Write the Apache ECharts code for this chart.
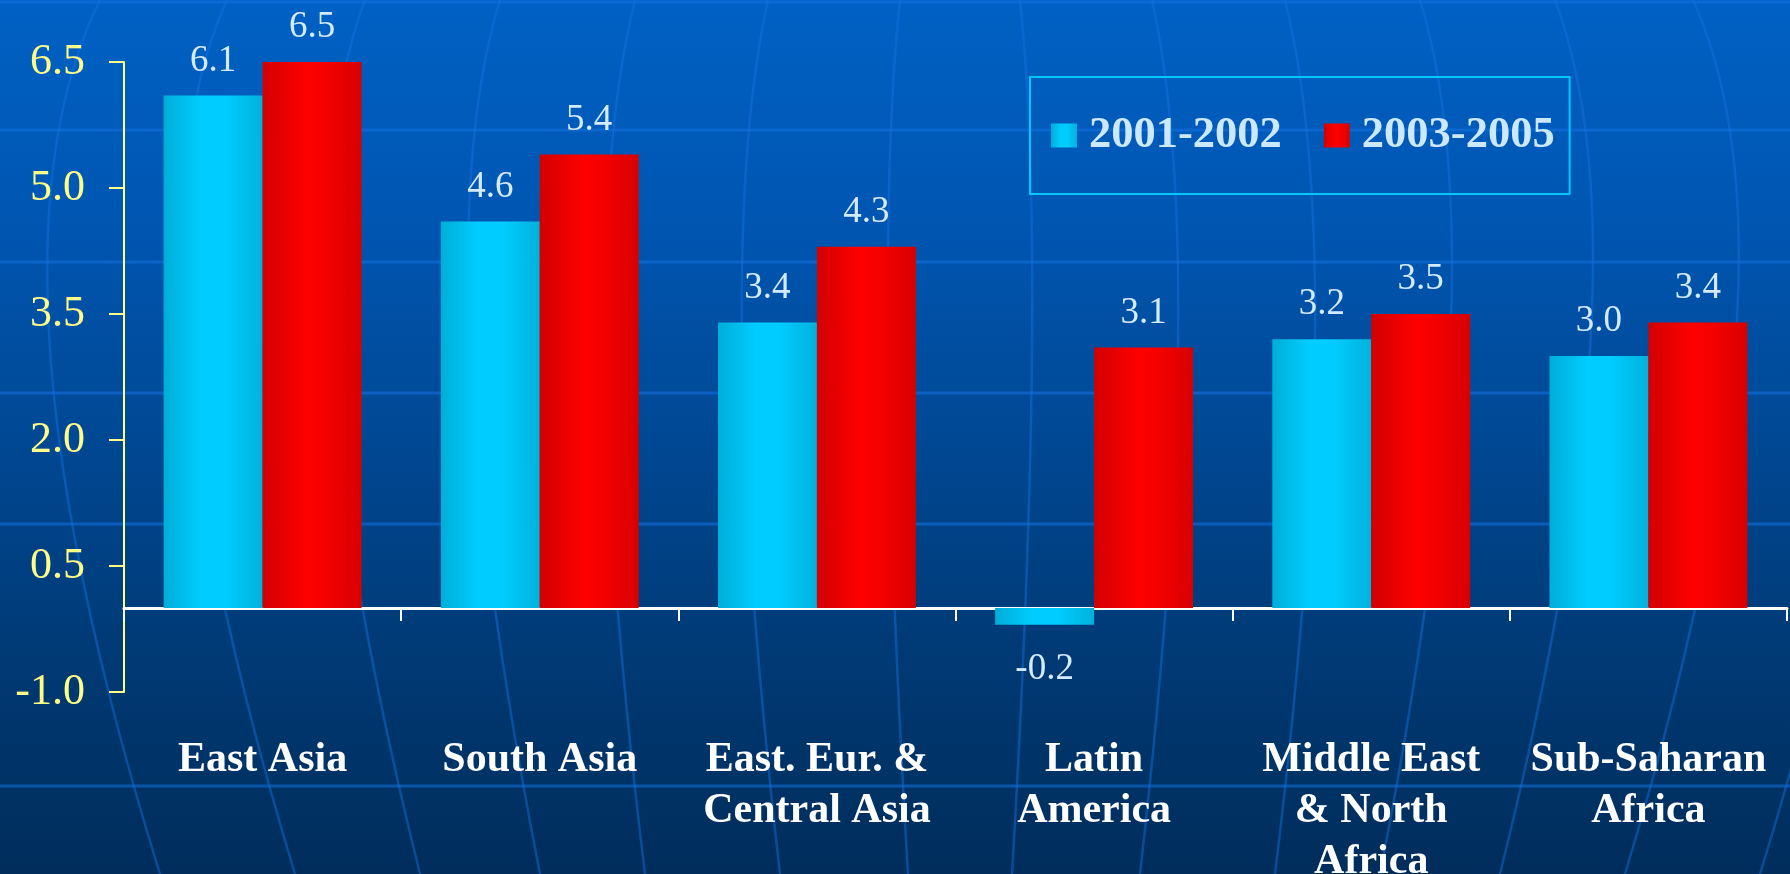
<!DOCTYPE html>
<html>
<head>
<meta charset="utf-8">
<script src="https://cdn.jsdelivr.net/npm/echarts@6/dist/echarts.min.js"></script>
<style>
  html, body { margin: 0; padding: 0; background: #004a94; }
  #chart { width: 1790px; height: 874px; }
</style>
</head>
<body>
<div id="chart"></div>
<script>
// ---- data ----
const categories = ['East Asia', 'South Asia', 'East. Eur. &\nCentral Asia', 'Latin\nAmerica', 'Middle East\n& North\nAfrica', 'Sub-Saharan\nAfrica'];
const seriesNames = ['2001-2002', '2003-2005'];
const values20012002 = [6.1, 4.6, 3.4, -0.2, 3.2, 3.0];
const values20032005 = [6.5, 5.4, 4.3, 3.1, 3.5, 3.4];
const yTicks = [-1.0, 0.5, 2.0, 3.5, 5.0, 6.5];

// ---- background decoration (slide globe texture) ----
const decoHLines = [2, 130, 262, 393, 524, 786];
const decoMeridians = [[60, 72, 52], [192, 218, 180], [325, 355, 315], [460, 490, 420], [595, 630, 540], [733, 775, 665], [860, 910, 800]];
const W = 1790, H = 874, CX = 960;

const graphics = [{
  type: 'rect', z: -20, silent: true,
  shape: { x: 0, y: 0, width: W, height: H },
  style: {
    fill: new echarts.graphic.LinearGradient(0, 0, 0, 1, [
      { offset: 0, color: '#0061C4' },
      { offset: 0.25, color: '#0056B2' },
      { offset: 0.5, color: '#004894' },
      { offset: 0.8, color: '#00376F' },
      { offset: 1, color: '#002D5B' }
    ])
  }
}];
decoHLines.forEach(function (y) {
  graphics.push({ type: 'line', z: -10, silent: true,
    shape: { x1: 0, y1: y, x2: W, y2: y },
    style: { stroke: 'rgba(20,115,225,0.55)', lineWidth: 3 } });
});
decoMeridians.forEach(function (m) {
  [-1, 1].forEach(function (s) {
    const xt = CX + s * m[0], xm = CX + s * m[1], xb = CX + s * m[2];
    graphics.push({ type: 'bezierCurve', z: -10, silent: true,
      shape: { x1: xt, y1: 0, x2: xb, y2: H, cpx1: 2 * xm - (xt + xb) / 2, cpy1: 2 * 350 - H / 2 },
      style: { stroke: 'rgba(20,115,225,0.45)', lineWidth: 2.5, fill: 'none' } });
  });
});

const cyanGrad = new echarts.graphic.LinearGradient(0, 0, 1, 0, [
  { offset: 0, color: '#00AED8' },
  { offset: 0.38, color: '#00CCFF' },
  { offset: 0.62, color: '#00CCFF' },
  { offset: 1, color: '#00B2DC' }
]);
const redGrad = new echarts.graphic.LinearGradient(0, 0, 1, 0, [
  { offset: 0, color: '#D20000' },
  { offset: 0.45, color: '#FF0000' },
  { offset: 0.65, color: '#F50000' },
  { offset: 1, color: '#D80000' }
]);

function toItems(arr) {
  return arr.map(function (v) {
    return v < 0 ? { value: v, label: { position: 'bottom', distance: 26 } } : { value: v };
  });
}

const labelStyle = {
  show: true, position: 'top', distance: 16,
  fontFamily: 'Liberation Serif', fontSize: 37, color: '#D4EAFF',
  formatter: function (p) { return Number(p.value).toFixed(1); }
};

const chart = echarts.init(document.getElementById('chart'));
chart.setOption({
  animation: false,
  graphic: graphics,
  grid: { left: 124, right: 3, top: 62, bottom: 182, containLabel: false, outerBoundsMode: 'none' },
  legend: {
    data: seriesNames,
    left: 1030, top: 77,
    orient: 'horizontal',
    icon: 'rect', itemWidth: 26, itemHeight: 24, itemGap: 42,
    borderColor: '#00C8F8', borderWidth: 2,
    padding: [36, 15, 36, 21],
    textStyle: { color: '#CCE8FF', fontSize: 44.5, fontWeight: 'bold', fontFamily: 'Liberation Serif', padding: [0, 0, 0, 7] }
  },
  xAxis: {
    type: 'category', data: categories,
    axisLine: { show: true, onZero: true, lineStyle: { color: '#FFFFFF', width: 3 } },
    axisTick: { show: true, length: 13, lineStyle: { color: '#FFFFFF', width: 2 } },
    axisLabel: { interval: 0, fontSize: 42, fontWeight: 'bold', fontFamily: 'Liberation Serif', color: '#FFFFFF', lineHeight: 51, margin: 43 },
    splitLine: { show: false }
  },
  yAxis: {
    type: 'value', min: -1, max: 6.5,
    axisLine: { show: true, lineStyle: { color: '#FFFF88', width: 2 } },
    axisTick: { show: true, length: 15, customValues: yTicks, lineStyle: { color: '#FFFF88', width: 2 } },
    axisLabel: { customValues: yTicks, formatter: function (v) { return Number(v).toFixed(1); }, fontSize: 44, fontFamily: 'Liberation Serif', color: '#FFFF88', margin: 39 },
    splitLine: { show: false }
  },
  series: [
    { name: seriesNames[0], type: 'bar', data: toItems(values20012002), barGap: '0%', barCategoryGap: '28.6%', itemStyle: { color: cyanGrad }, label: labelStyle },
    { name: seriesNames[1], type: 'bar', data: toItems(values20032005), barGap: '0%', barCategoryGap: '28.6%', itemStyle: { color: redGrad }, label: labelStyle }
  ]
});
</script>
</body>
</html>
